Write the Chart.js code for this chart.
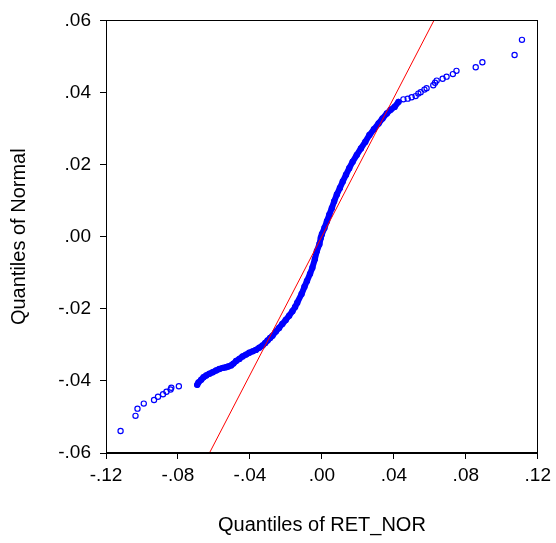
<!DOCTYPE html>
<html>
<head>
<meta charset="utf-8">
<script src="https://cdn.jsdelivr.net/npm/chart.js@4"></script>
<style>
  body { margin: 0; background: #fff; }
  canvas { display: block; }
</style>
</head>
<body>
<canvas id="qqChart" width="556" height="543"></canvas>
<script>
// Quantis da amostra (RET_NOR) e quantis da normal
const lowTailX = [-0.1119, -0.1036, -0.1025, -0.0990, -0.0933, -0.0911, -0.0883, -0.0864, -0.0841, -0.0837, -0.0795];
const lowTailY = [-0.0539, -0.0497, -0.0477, -0.0463, -0.0453, -0.0444, -0.0437, -0.0430, -0.0424, -0.0419, -0.0415];

const bandX = [-0.0693, -0.0686, -0.0671, -0.0658, -0.0643, -0.0625, -0.0607, -0.0588, -0.0570, -0.0551,
  -0.0533, -0.0520, -0.0505, -0.0492, -0.0477, -0.0459, -0.0441, -0.0422, -0.0404, -0.0385,
  -0.0367, -0.0348, -0.0330, -0.0315, -0.0302, -0.0288, -0.0275, -0.0256, -0.0238, -0.0220,
  -0.0201, -0.0182, -0.0164, -0.0149, -0.0137, -0.0113, -0.0097, -0.0083, -0.0066, -0.0053,
  -0.0039, -0.0028, -0.0014, -0.0006, 0.0000, 0.0014, 0.0028, 0.0041, 0.0055, 0.0068,
  0.0083, 0.0100, 0.0116, 0.0134, 0.0152, 0.0171, 0.0194, 0.0217, 0.0241, 0.0264,
  0.0289, 0.0315, 0.0337, 0.0361, 0.0382, 0.0404, 0.0426];
const bandY = [-0.0411, -0.0404, -0.0397, -0.0390, -0.0385, -0.0380, -0.0376, -0.0371, -0.0367, -0.0364,
  -0.0362, -0.0360, -0.0357, -0.0352, -0.0345, -0.0339, -0.0332, -0.0327, -0.0322, -0.0318,
  -0.0314, -0.0308, -0.0302, -0.0295, -0.0288, -0.0281, -0.0275, -0.0263, -0.0253, -0.0242,
  -0.0231, -0.0219, -0.0207, -0.0195, -0.0183, -0.0159, -0.0139, -0.0123, -0.0103, -0.0086,
  -0.0062, -0.0040, -0.0021, -0.0003, 0.0007, 0.0024, 0.0043, 0.0061, 0.0079, 0.0098,
  0.0117, 0.0135, 0.0153, 0.0172, 0.0190, 0.0208, 0.0227, 0.0245, 0.0263, 0.0282,
  0.0298, 0.0314, 0.0328, 0.0342, 0.0352, 0.0360, 0.0374];

const highTailX = [0.0453, 0.0477, 0.0499, 0.0521, 0.0536, 0.0549, 0.0570, 0.0582, 0.0619, 0.0629,
  0.0638, 0.0671, 0.0693, 0.0728, 0.0748, 0.0855, 0.0892, 0.1071, 0.1112];
const highTailY = [0.0381, 0.0383, 0.0387, 0.0390, 0.0397, 0.0401, 0.0408, 0.0412, 0.0420, 0.0427,
  0.0433, 0.0438, 0.0444, 0.0451, 0.0460, 0.0470, 0.0484, 0.0504, 0.0546];

// Reta de referência
const refLineX = [-0.0625, 0.0623];
const refLineY = [-0.06, 0.06];

const xTicks = [-0.12, -0.08, -0.04, 0, 0.04, 0.08, 0.12];
const xTickLabels = ["-.12", "-.08", "-.04", ".00", ".04", ".08", ".12"];
const yTicks = [-0.06, -0.04, -0.02, 0, 0.02, 0.04, 0.06];
const yTickLabels = ["-.06", "-.04", "-.02", ".00", ".02", ".04", ".06"];

const FONT = "'Liberation Sans', Arial, Helvetica, sans-serif";

function toPoints(xs, ys) {
  return xs.map(function (x, i) { return { x: x, y: ys[i] }; });
}

// Moldura completa em volta da área do gráfico
const framePlugin = {
  id: "frame",
  afterDraw: function (chart) {
    const a = chart.chartArea;
    const ctx = chart.ctx;
    ctx.save();
    ctx.strokeStyle = "#000";
    ctx.lineWidth = 1;
    ctx.strokeRect(Math.round(a.left) + 0.5, Math.round(a.top) + 0.5,
      Math.round(a.right - a.left) - 1, Math.round(a.bottom - a.top) - 1);
    ctx.restore();
  }
};

function loadQQChart() {
  const ctx = document.getElementById("qqChart").getContext("2d");
  const allPoints = toPoints(lowTailX, lowTailY)
    .concat(toPoints(bandX, bandY))
    .concat(toPoints(highTailX, highTailY));

  new Chart(ctx, {
    type: "scatter",
    data: {
      datasets: [
        {
          label: "Normal",
          data: toPoints(refLineX, refLineY),
          showLine: true,
          borderColor: "#ff0000",
          borderWidth: 1,
          pointRadius: 0,
          fill: false,
          order: 0,
        },
        {
          label: "RET_NOR",
          data: allPoints,
          borderColor: "#0000ff",
          backgroundColor: "rgba(0,0,0,0)",
          pointRadius: 2.6,
          pointBorderWidth: 1.2,
          order: 1,
        },
        {
          label: "band",
          data: toPoints(bandX, bandY),
          showLine: true,
          borderColor: "#0000ff",
          borderWidth: 6,
          borderCapStyle: "round",
          borderJoinStyle: "round",
          pointRadius: 0,
          fill: false,
          order: 2,
        },
      ],
    },
    options: {
      responsive: false,
      animation: false,
      layout: { padding: { top: 18, right: 16, left: 0, bottom: 0 } },
      plugins: {
        legend: { display: false },
        tooltip: { enabled: false },
      },
      scales: {
        x: {
          type: "linear",
          min: -0.12,
          max: 0.12,
          afterBuildTicks: function (scale) {
            scale.ticks = xTicks.map(function (v) { return { value: v }; });
          },
          afterFit: function (scale) { scale.height = 90; },
          ticks: {
            color: "#000",
            padding: 5,
            maxRotation: 0,
            font: { family: FONT, size: 19 },
            callback: function (value, index) { return xTickLabels[index]; },
          },
          grid: { drawOnChartArea: false, drawTicks: true, tickLength: 6, color: "#000" },
          border: { color: "#000", width: 1 },
          title: {
            display: true,
            text: "Quantiles of RET_NOR",
            color: "#000",
            font: { family: FONT, size: 20 },
            padding: { top: 0, bottom: 6 },
          },
        },
        y: {
          type: "linear",
          min: -0.06,
          max: 0.06,
          afterBuildTicks: function (scale) {
            scale.ticks = yTicks.map(function (v) { return { value: v }; });
          },
          afterFit: function (scale) { scale.width = 106; },
          ticks: {
            color: "#000",
            padding: 9,
            font: { family: FONT, size: 19 },
            callback: function (value, index) { return yTickLabels[index]; },
          },
          grid: { drawOnChartArea: false, drawTicks: true, tickLength: 6, color: "#000" },
          border: { color: "#000", width: 1 },
          title: {
            display: true,
            text: "Quantiles of Normal",
            color: "#000",
            font: { family: FONT, size: 20 },
            padding: { top: 7, bottom: 0 },
          },
        },
      },
    },
    plugins: [framePlugin],
  });
}

document.addEventListener("DOMContentLoaded", function () {
  loadQQChart();
});
</script>
</body>
</html>
